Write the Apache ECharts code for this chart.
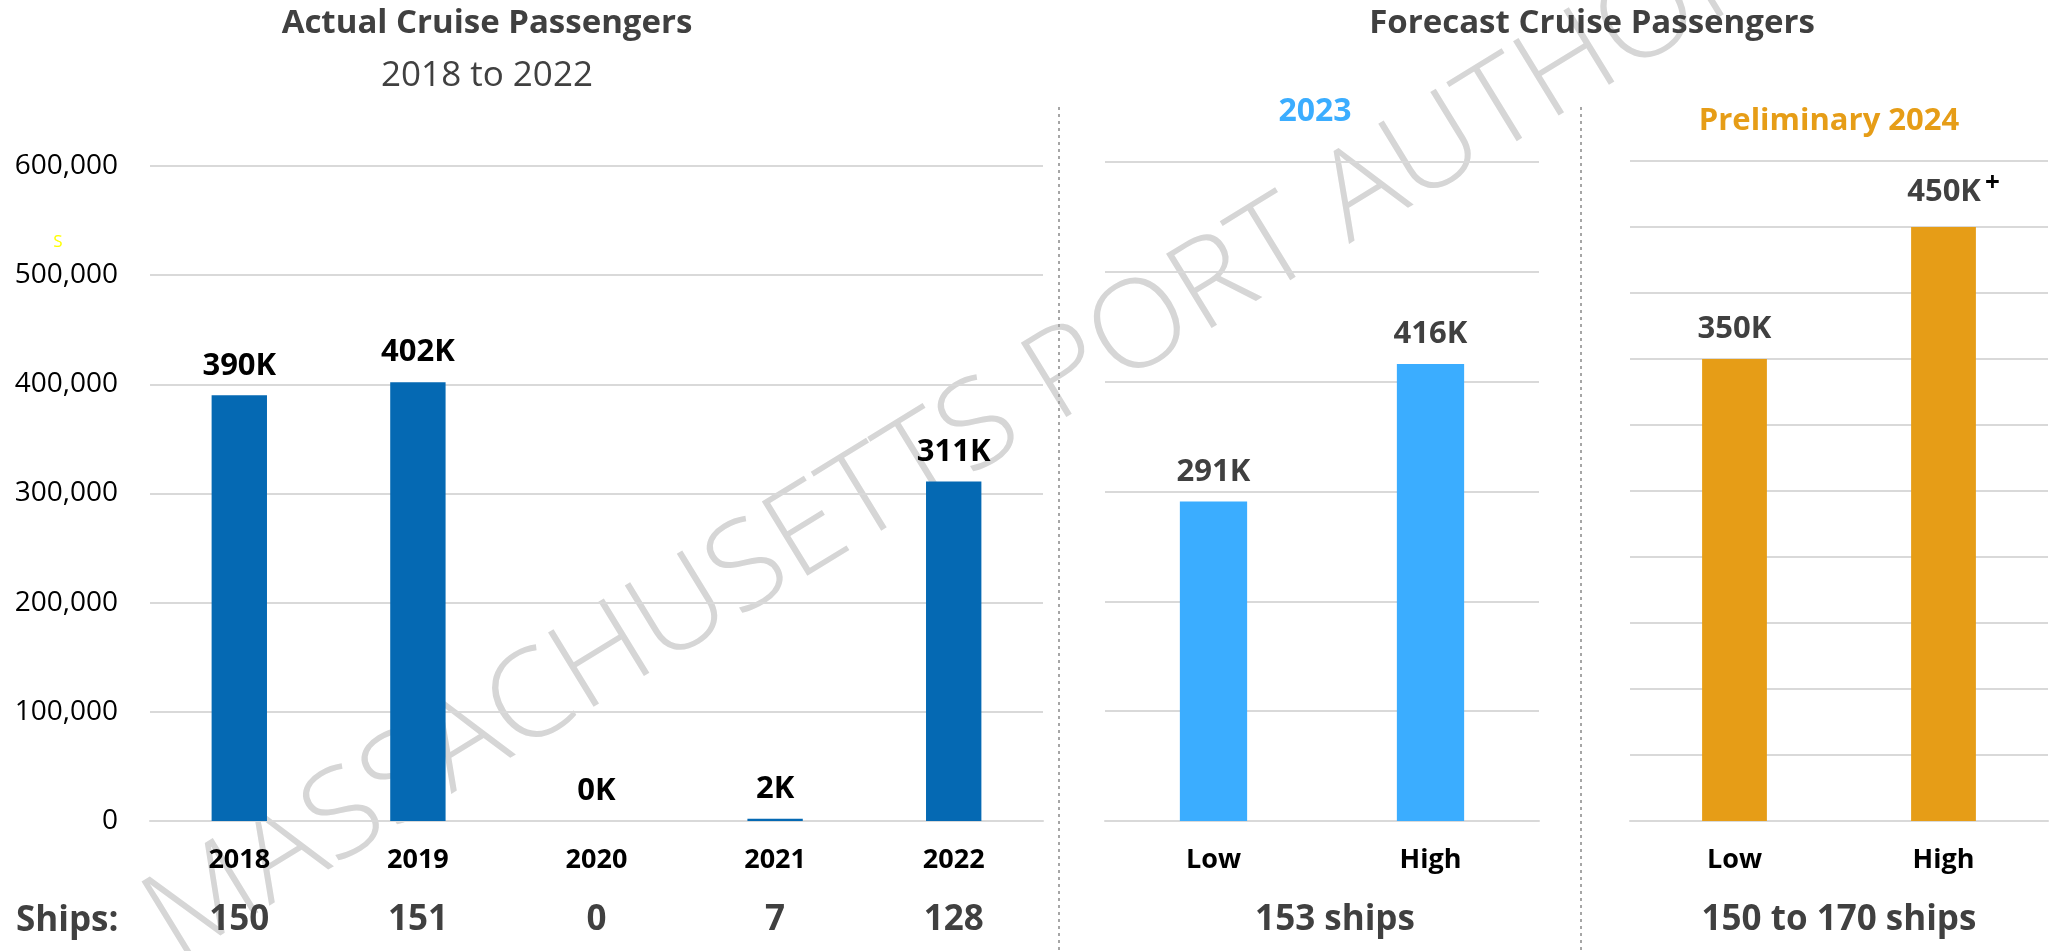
<!DOCTYPE html>
<html>
<head>
<meta charset="utf-8">
<title>Cruise Passengers</title>
<script src="https://cdn.jsdelivr.net/npm/echarts@6/dist/echarts.min.js"></script>
<style>
  html, body { margin: 0; padding: 0; background: #fff; }
  #main { width: 2049px; height: 951px; }
</style>
</head>
<body>
<div id="main"></div>
<script>
  // 实际数据 2018-2022
  const actualYears = ["2018", "2019", "2020", "2021", "2022"];
  const actualPassengers = [390000, 402000, 0, 2000, 311000];
  const actualShips = ["150", "151", "0", "7", "128"];
  // 预测数据
  const forecastCats = ["Low", "High"];
  const forecast2023 = [291000, 416000];
  const forecast2024 = [350000, 450000];
  const ships2023 = "153 ships";
  const ships2024 = "150 to 170 ships";
  // 坐标轴刻度
  const actualAxis = { min: 0, max: 600000, interval: 100000 };
  const prelimAxis = { min: 0, max: 500000, interval: 50000 };

  const font = "'Open Sans', 'Noto Sans', sans-serif";
  const gridColor = "#d9d9d9";
  const darkText = "#404040";

  const kFormat = v => Math.round(v.value / 1000) + "K";

  function catAxis(gridIndex, data, extra) {
    return Object.assign({
      gridIndex: gridIndex,
      type: "category",
      data: data,
      axisLine: { lineStyle: { color: gridColor, width: 2 } },
      axisTick: { length: 10, lineStyle: { color: gridColor, width: 2 } },
      axisLabel: {
        margin: 26,
        fontFamily: font,
        fontSize: 27,
        fontWeight: "bold",
        color: "#000"
      }
    }, extra || {});
  }

  function valAxis(gridIndex, range, showLabel) {
    return {
      gridIndex: gridIndex,
      type: "value",
      min: range.min,
      max: range.max,
      interval: range.interval,
      axisLine: { show: false },
      axisTick: { show: false },
      splitLine: { lineStyle: { color: gridColor, width: 2 } },
      axisLabel: {
        show: showLabel,
        margin: 32,
        fontFamily: font,
        fontSize: 28,
        color: "#000",
        formatter: v => v.toLocaleString("en-US")
      }
    };
  }

  function barSeries(xi, yi, data, color, labelColor) {
    return {
      type: "bar",
      xAxisIndex: xi,
      yAxisIndex: yi,
      data: data,
      barWidth: "31%",
      itemStyle: { color: color },
      z: 3,
      label: {
        show: true,
        position: "top",
        distance: 14,
        fontFamily: font,
        fontSize: 31,
        fontWeight: "bold",
        color: labelColor,
        formatter: kFormat
      }
    };
  }

  function shipsName(text, shift) {
    return {
      name: text,
      nameLocation: "middle",
      nameGap: 82,
      nameTextStyle: {
        fontFamily: font,
        fontSize: 35,
        fontWeight: "bold",
        color: darkText,
        padding: [0, 0, 0, shift]
      }
    };
  }

  const myChart = echarts.init(document.getElementById("main"), null, { renderer: "canvas" });

  const option = {
    backgroundColor: "#fff",
    animation: false,
    title: [
      {
        text: "Actual Cruise Passengers",
        subtext: "2018 to 2022",
        left: 487,
        top: 7,
        padding: 0,
        textAlign: "center",
        itemGap: 19,
        textStyle: { fontFamily: font, fontSize: 33, fontWeight: "bold", color: darkText },
        subtextStyle: { fontFamily: font, fontSize: 35, color: darkText }
      },
      {
        text: "Forecast Cruise Passengers",
        left: 1592,
        top: 7,
        padding: 0,
        textAlign: "center",
        textStyle: { fontFamily: font, fontSize: 33, fontWeight: "bold", color: darkText }
      },
      {
        text: "2023",
        left: 1315,
        top: 96,
        padding: 0,
        textAlign: "center",
        textStyle: { fontFamily: font, fontSize: 32, fontWeight: "bold", color: "#3badff" }
      },
      {
        text: "Preliminary 2024",
        left: 1829,
        top: 106,
        padding: 0,
        textAlign: "center",
        textStyle: { fontFamily: font, fontSize: 31, fontWeight: "bold", color: "#e69d17" }
      }
    ],
    grid: [
      { left: 150, width: 893, top: 166, bottom: 130 },
      { left: 1105, width: 434, top: 162, bottom: 130 },
      { left: 1630, width: 418, top: 161, bottom: 130 }
    ],
    xAxis: [
      catAxis(0, actualYears),
      {
        gridIndex: 0,
        type: "category",
        position: "bottom",
        data: actualShips,
        axisLine: { show: false },
        axisTick: { show: false },
        axisLabel: {
          margin: 82,
          fontFamily: font,
          fontSize: 35,
          fontWeight: "bold",
          color: darkText
        }
      },
      catAxis(1, forecastCats, shipsName(ships2023, 26)),
      catAxis(2, forecastCats, shipsName(ships2024, 0))
    ],
    yAxis: [
      valAxis(0, actualAxis, true),
      valAxis(1, actualAxis, false),
      valAxis(2, prelimAxis, false)
    ],
    series: [
      barSeries(0, 0, actualPassengers, "#0569b3", "#000"),
      barSeries(2, 1, forecast2023, "#3badff", darkText),
      barSeries(3, 2, forecast2024.map((v, i) => i === 1 ? {
        value: v,
        label: {
          offset: [10, 0],
          formatter: p => "{a|" + Math.round(p.value / 1000) + "K}{b|+}",
          rich: {
            a: { fontFamily: font, fontSize: 31, fontWeight: "bold", color: darkText },
            b: { fontFamily: font, fontSize: 26, fontWeight: "bold", color: "#000", padding: [0, 0, 16, 4] }
          }
        }
      } : v), "#e69d17", darkText)
    ],
    graphic: [
      // 水印，放在最底层
      {
        type: "text",
        x: 190,
        y: 985,
        rotation: 31.5 * Math.PI / 180,
        scaleX: 1.035,
        z: -10,
        silent: true,
        style: {
          text: "MASSACHUSETTS PORT AUTHORITY",
          fontFamily: font,
          fontSize: 122,
          fontWeight: 300,
          fill: "#d6d6d6",
          align: "left",
          verticalAlign: "bottom"
        }
      },
      {
        type: "text",
        x: 16,
        y: 921,
        style: {
          text: "Ships:",
          fontFamily: font,
          fontSize: 35,
          fontWeight: "bold",
          fill: darkText,
          verticalAlign: "middle"
        }
      },
      {
        type: "text",
        x: 58,
        y: 242,
        style: {
          text: "S",
          fontFamily: font,
          fontSize: 17,
          fill: "#ffff00",
          align: "center",
          verticalAlign: "middle"
        }
      },
      // 分隔虚线
      {
        type: "line",
        shape: { x1: 1059, y1: 107, x2: 1059, y2: 951 },
        style: { stroke: "#a6a6a6", lineWidth: 2, lineDash: [3, 4] }
      },
      {
        type: "line",
        shape: { x1: 1581, y1: 107, x2: 1581, y2: 951 },
        style: { stroke: "#a6a6a6", lineWidth: 2, lineDash: [3, 4] }
      }
    ]
  };

  myChart.clear();
  myChart.setOption(option);
</script>
</body>
</html>
